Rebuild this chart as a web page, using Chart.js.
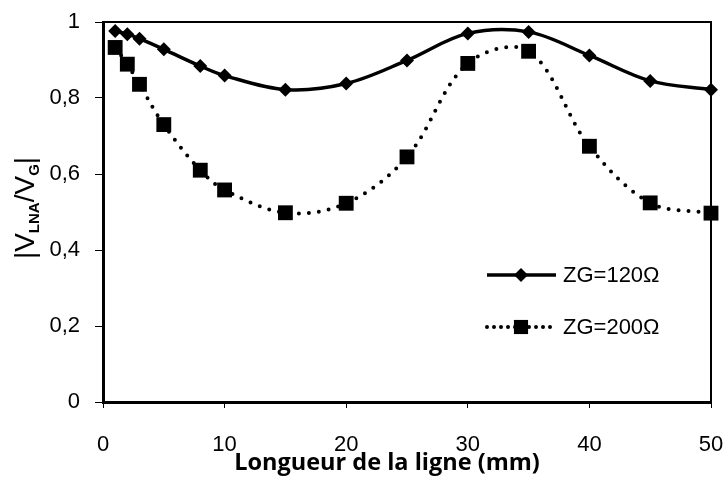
<!DOCTYPE html>
<html>
<head>
<meta charset="utf-8">
<script src="https://cdn.jsdelivr.net/npm/chart.js@4"></script>
<style>
  html, body { margin: 0; padding: 0; background: #fff; }
  #wrap { width: 726px; height: 487px; }
</style>
</head>
<body>
<div id="wrap"><canvas id="chart"></canvas></div>
<script>
// longueur de la ligne (mm)
const lengths = [1, 2, 3, 5, 8, 10, 15, 20, 25, 30, 35, 40, 45, 50];
// |VLNA/VG|
const zg120 = [0.976, 0.968, 0.956, 0.928, 0.884, 0.859, 0.822, 0.838, 0.899, 0.970, 0.974, 0.912, 0.845, 0.822];
const zg200 = [0.933, 0.889, 0.836, 0.730, 0.610, 0.558, 0.498, 0.523, 0.645, 0.891, 0.923, 0.673, 0.524, 0.497];
const seriesNames = ['ZG=120Ω', 'ZG=200Ω'];
const xTicks = [0, 10, 20, 30, 40, 50];
const yTicks = [0, 0.2, 0.4, 0.6, 0.8, 1];

const tickFont = { family: '"Liberation Sans", Arial, sans-serif', size: 22 };

function toPoints(ys) {
    return lengths.map((x, i) => ({ x: x, y: ys[i] }));
}

// cadre fin en haut et à droite + titres + légende
const extras = {
    id: 'extras',
    afterDraw(chart) {
        const c = chart.ctx;
        const a = chart.chartArea;
        c.save();
        c.strokeStyle = '#000';
        c.lineWidth = 2;
        c.beginPath();
        c.moveTo(a.left, a.top);
        c.lineTo(a.right, a.top);
        c.lineTo(a.right, a.bottom);
        c.stroke();

        // titre axe x
        c.fillStyle = '#000';
        c.font = 'bold 23.5px "Open Sans", sans-serif';
        c.textAlign = 'center';
        c.textBaseline = 'alphabetic';
        c.fillText('Longueur de la ligne (mm)', 387, 470);

        // titre axe y avec indices
        c.save();
        c.translate(34, 208);
        c.rotate(-Math.PI / 2);
        const big = '28px "Liberation Sans", Arial, sans-serif';
        const small = 'bold 15px "Liberation Sans", Arial, sans-serif';
        const parts = [['|V', big, 0], ['LNA', small, 5], ['/V', big, 0], ['G', small, 5], ['|', big, 0]];
        let w = 0;
        parts.forEach(p => { c.font = p[1]; w += c.measureText(p[0]).width; });
        let x = -w / 2;
        c.textAlign = 'left';
        parts.forEach(p => {
            c.font = p[1];
            c.fillText(p[0], x, p[2]);
            x += c.measureText(p[0]).width;
        });
        c.restore();

        // légende
        const rows = [
            { y: 275, ds: chart.data.datasets[0], r: 7 },
            { y: 327, ds: chart.data.datasets[1], r: 10 }
        ];
        rows.forEach(r => {
            c.save();
            c.strokeStyle = '#000';
            c.lineWidth = r.ds.borderWidth;
            c.lineCap = r.ds.borderCapStyle || 'butt';
            c.setLineDash(r.ds.borderDash && r.ds.borderDash.length ? [0, 7] : []);
            c.beginPath();
            c.moveTo(487, r.y);
            c.lineTo(556, r.y);
            c.stroke();
            c.restore();
            c.fillStyle = '#000';
            Chart.helpers.drawPoint(c, {
                pointStyle: r.ds.pointStyle,
                radius: r.r,
                rotation: 0,
                borderWidth: 0
            }, 521, r.y);
            c.font = '22px "Liberation Sans", Arial, sans-serif';
            c.textAlign = 'left';
            c.textBaseline = 'middle';
            c.fillText(r.ds.label, 563, r.y + 1);
        });
        c.restore();
    }
};

document.addEventListener('DOMContentLoaded', () => {
    const ctx = document.getElementById('chart').getContext('2d');
    new Chart(ctx, {
        type: 'line',
        data: {
            datasets: [{
                label: seriesNames[0],
                data: toPoints(zg120),
                borderColor: '#000',
                backgroundColor: '#000',
                borderWidth: 3.5,
                tension: 0.35,
                pointStyle: 'rectRot',
                pointRadius: 7,
                pointBorderWidth: 0,
                clip: false
            }, {
                label: seriesNames[1],
                data: toPoints(zg200),
                borderColor: '#000',
                backgroundColor: '#000',
                borderWidth: 4,
                borderDash: [0, 10],
                borderCapStyle: 'round',
                tension: 0.35,
                pointStyle: 'rect',
                pointRadius: 10.5,
                pointBorderWidth: 0,
                clip: false
            }]
        },
        options: {
            responsive: true,
            maintainAspectRatio: false,
            animation: false,
            layout: { padding: { top: 22, right: 15, left: 0, bottom: 0 } },
            scales: {
                x: {
                    type: 'linear',
                    min: 0,
                    max: 50,
                    afterFit: s => { s.height = 85; s.paddingLeft = 0; s.paddingRight = 0; },
                    afterBuildTicks: s => { s.ticks = xTicks.map(v => ({ value: v })); },
                    grid: { drawOnChartArea: false, drawTicks: true, tickLength: 6, tickColor: '#000', tickWidth: 1 },
                    border: { color: '#000', width: 3 },
                    ticks: { color: '#000', font: tickFont, padding: 24, maxRotation: 0 }
                },
                y: {
                    min: 0,
                    max: 1,
                    afterFit: s => { s.width = 103; s.paddingTop = 0; s.paddingBottom = 0; },
                    afterBuildTicks: s => { s.ticks = yTicks.map(v => ({ value: v })); },
                    grid: { drawOnChartArea: false, drawTicks: true, tickLength: 8, tickColor: '#000', tickWidth: 1 },
                    border: { color: '#000', width: 3 },
                    ticks: {
                        color: '#000',
                        font: tickFont,
                        padding: 15,
                        callback: v => String(Math.round(v * 10) / 10).replace('.', ',')
                    }
                }
            },
            plugins: {
                legend: { display: false },
                tooltip: { enabled: false }
            }
        },
        plugins: [extras]
    });
});
</script>
</body>
</html>
